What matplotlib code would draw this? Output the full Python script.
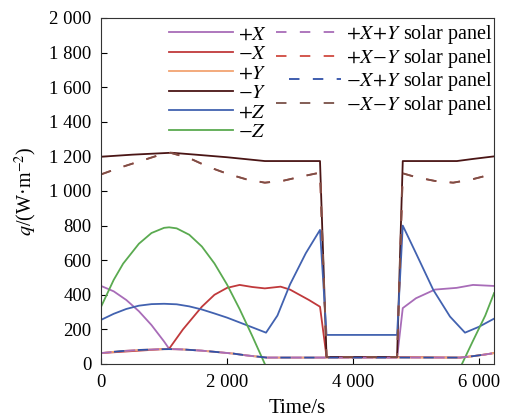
import numpy as np
import matplotlib
matplotlib.use("Agg")
from matplotlib import pyplot as plt
from matplotlib.lines import Line2D
from matplotlib.ticker import FuncFormatter, MultipleLocator

plt.rcParams['font.family'] = ['Liberation Serif', 'DejaVu Serif']
plt.rcParams['mathtext.fontset'] = 'stix'

# surface heat flux q (W/m^2) vs time (s)
t_px = [0, 200, 400, 600, 800, 1000, 1080, 1300, 1600, 1900, 2100, 2300, 2500,
        2630, 4700, 4790, 5000, 5300, 5645, 5905, 6240]
q_px = [451, 420, 370, 305, 225, 130, 88, 84, 77, 67, 60, 50, 42,
        37, 37, 323, 380, 430, 440, 457, 451]

t_mx = [0, 1080, 1300, 1600, 1800, 2000, 2200, 2400, 2600, 2850, 3000, 3100,
        3300, 3476, 3580, 4700, 5700, 5900, 6100, 6240]
q_mx = [63, 88, 200, 331, 400, 440, 457, 445, 437, 447, 430, 410, 370, 331,
        40, 40, 37, 45, 55, 63]

t_low = [0, 300, 600, 900, 1080, 1300, 1600, 1900, 2100, 2300, 2500, 2630,
         5700, 5900, 6100, 6240]
q_low = [63, 74, 81, 85, 86, 84, 77, 67, 60, 50, 42, 37, 37, 45, 55, 63]

t_my = [0, 500, 1120, 1500, 2000, 2600, 3476, 3580, 4700, 4790, 5650, 5900, 6240]
q_my = [1198, 1210, 1221, 1210, 1195, 1173, 1173, 40, 40, 1173, 1173, 1185, 1200]

t_pz = [0, 200, 400, 600, 800, 1000, 1200, 1400, 1600, 1800, 2000, 2200, 2400,
        2619, 2800, 3000, 3250, 3476, 3580, 4700, 4790, 5000, 5275, 5540, 5778,
        6000, 6240]
q_pz = [255, 290, 318, 337, 346, 348, 345, 333, 315, 292, 268, 240, 212,
        181, 280, 460, 640, 775, 168, 168, 800, 640, 428, 274, 181, 215, 262]

t_mz = [0, 200, 350, 600, 800, 1000, 1080, 1200, 1400, 1600, 1800, 2000, 2200,
        2400, 2600, 2700, 5650, 5730, 5900, 6100, 6240]
q_mz = [331, 486, 580, 695, 757, 787, 790, 784, 747, 679, 581, 459, 317,
        162, 0, -80, -70, 0, 130, 280, 410]

t_sp = [0, 300, 600, 900, 1100, 1400, 1700, 2000, 2300, 2600, 2900, 3200,
        3476, 3580, 4700, 4790, 5000, 5300, 5590, 5900, 6240]
q_sp = [1096, 1135, 1170, 1205, 1221, 1190, 1140, 1100, 1068, 1048, 1060, 1085,
        1106, 40, 40, 1102, 1080, 1058, 1048, 1068, 1100]

c_px, c_mx, c_py, c_my, c_pz, c_mz = ('#a86cb8', '#c0393b', '#f2a472',
                                      '#4a1515', '#4262b0', '#5aaa50')

fig = plt.figure(figsize=(5.08, 4.19), dpi=100)
ax = fig.add_axes([0.199, 0.1313, 0.7736, 0.8258])

lw = 1.3
dash = (5.8, 7.4)
h = []
h.append(ax.plot(t_px, q_px, color=c_px, lw=lw, label='$+X$')[0])
h.append(ax.plot(t_mx, q_mx, color=c_mx, lw=lw, label='$-X$')[0])
h.append(ax.plot(t_low, q_low, color=c_py, lw=lw, label='$+Y$')[0])
h.append(ax.plot(t_my, q_my, color=c_my, lw=lw, label='$-Y$')[0])
h.append(ax.plot(t_pz, q_pz, color=c_pz, lw=lw, label='$+Z$')[0])
h.append(ax.plot(t_mz, q_mz, color=c_mz, lw=lw, label='$-Z$')[0])
h.append(ax.plot(t_low, q_low, color=c_px, lw=lw, ls=(0, dash),
                 label='$+X\\!+\\!Y$ solar panel')[0])
h.append(ax.plot(t_sp, q_sp, color='#d04a40', lw=lw, ls=(0, dash),
                 label='$+X\\!-\\!Y$ solar panel')[0])
h.append(ax.plot(t_low, q_low, color='#3050a8', lw=lw, ls=(6, dash),
                 label='$-X\\!+\\!Y$ solar panel')[0])
h.append(ax.plot(t_sp, q_sp, color='#7a5048', lw=lw, ls=(0, dash),
                 label='$-X\\!-\\!Y$ solar panel')[0])
blank = Line2D([], [], color='none', label=' ')
handles = h + [blank, blank]

ax.set_xlim(0, 6240)
ax.set_ylim(0, 2000)
ax.xaxis.set_major_locator(MultipleLocator(2000))
ax.yaxis.set_major_locator(MultipleLocator(200))
fmt = FuncFormatter(lambda v, p: f'{int(v):,}'.replace(',', ' '))
ax.xaxis.set_major_formatter(fmt)
ax.yaxis.set_major_formatter(fmt)
ax.tick_params(direction='in', length=4, labelsize=13.5, pad=7)
for s in ax.spines.values():
    s.set_color('#333333')

ax.set_xlabel('Time/s', fontsize=15, labelpad=6)
ax.set_ylabel('$q$/(W·m$^{-2}$)', fontsize=14.5, labelpad=7)

leg = ax.legend(handles=handles, ncol=2, loc='upper right',
                bbox_to_anchor=(1.0, 0.99), frameon=False, fontsize=14.5,
                handlelength=3.2, handletextpad=0.25, columnspacing=0.45,
                labelspacing=0.02, borderpad=0.1, borderaxespad=0)

plt.savefig('out.png', dpi=100)
